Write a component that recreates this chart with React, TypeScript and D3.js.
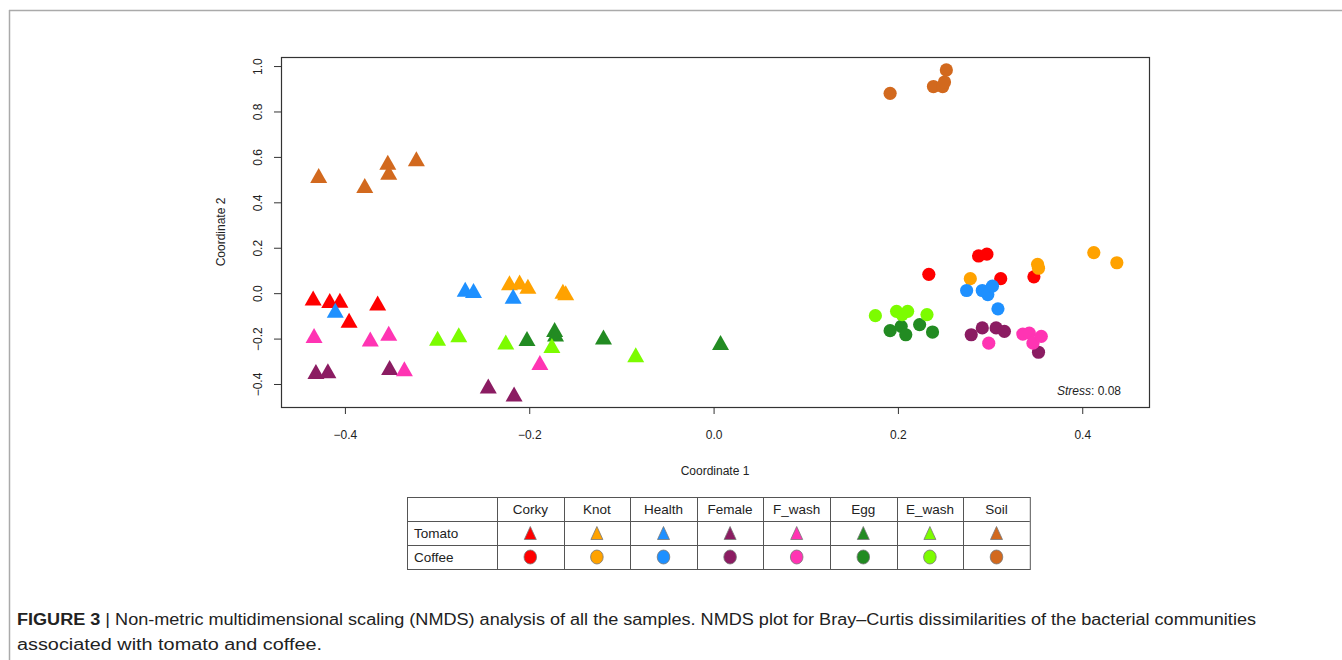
import React from "react";
import * as d3 from "d3";

// ---- data ----
const groups = ["Corky", "Knot", "Health", "Female", "F_wash", "Egg", "E_wash", "Soil"];
const groupColors = ["#FF0000", "#FFA200", "#1E90FF", "#8B1C62", "#FF34B3", "#228B22", "#7CFC00", "#D2691E"];

// Tomato samples (triangles)
const tomatoCorky: [number, number][] = [[-0.435, -0.019], [-0.417, -0.03], [-0.406, -0.029], [-0.396, -0.117], [-0.365, -0.041]];
const tomatoKnot: [number, number][] = [[-0.222, 0.048], [-0.211, 0.051], [-0.202, 0.033], [-0.164, 0.011], [-0.161, 0.004]];
const tomatoHealth: [number, number][] = [[-0.411, -0.073], [-0.27, 0.019], [-0.261, 0.014], [-0.218, -0.011]];
const tomatoFemale: [number, number][] = [[-0.432, -0.343], [-0.419, -0.339], [-0.352, -0.325], [-0.245, -0.407], [-0.217, -0.442]];
const tomatoFwash: [number, number][] = [[-0.434, -0.184], [-0.373, -0.2], [-0.353, -0.174], [-0.336, -0.331], [-0.189, -0.303]];
const tomatoEgg: [number, number][] = [[-0.203, -0.198], [-0.173, -0.158], [-0.172, -0.178], [-0.12, -0.191], [0.007, -0.215]];
const tomatoEwash: [number, number][] = [[-0.3, -0.196], [-0.277, -0.181], [-0.226, -0.213], [-0.176, -0.228], [-0.085, -0.269]];
const tomatoSoil: [number, number][] = [[-0.429, 0.52], [-0.379, 0.476], [-0.354, 0.579], [-0.353, 0.535], [-0.323, 0.594]];

// Coffee samples (circles)
const coffeeCorky: [number, number][] = [[0.233, 0.085], [0.287, 0.166], [0.296, 0.174], [0.311, 0.066], [0.347, 0.074]];
const coffeeKnot: [number, number][] = [[0.278, 0.066], [0.351, 0.129], [0.352, 0.112], [0.412, 0.181], [0.437, 0.136]];
const coffeeHealth: [number, number][] = [[0.274, 0.014], [0.291, 0.014], [0.297, -0.004], [0.302, 0.033], [0.308, -0.067]];
const coffeeFemale: [number, number][] = [[0.279, -0.181], [0.291, -0.151], [0.306, -0.151], [0.315, -0.166], [0.352, -0.258]];
const coffeeFwash: [number, number][] = [[0.298, -0.218], [0.335, -0.178], [0.342, -0.174], [0.346, -0.218], [0.355, -0.188]];
const coffeeEgg: [number, number][] = [[0.191, -0.163], [0.203, -0.144], [0.208, -0.181], [0.223, -0.136], [0.237, -0.169]];
const coffeeEwash: [number, number][] = [[0.175, -0.097], [0.198, -0.078], [0.204, -0.092], [0.21, -0.078], [0.231, -0.092]];
const coffeeSoil: [number, number][] = [[0.191, 0.882], [0.238, 0.912], [0.248, 0.912], [0.25, 0.932], [0.252, 0.985]];

const xTicks = [-0.4, -0.2, 0.0, 0.2, 0.4];
const yTicks = [-0.4, -0.2, 0.0, 0.2, 0.4, 0.6, 0.8, 1.0];
const stressValue = "0.08";
const hosts = ["Tomato", "Coffee"];

const tomatoSets = [tomatoCorky, tomatoKnot, tomatoHealth, tomatoFemale, tomatoFwash, tomatoEgg, tomatoEwash, tomatoSoil];
const coffeeSets = [coffeeCorky, coffeeKnot, coffeeHealth, coffeeFemale, coffeeFwash, coffeeEgg, coffeeEwash, coffeeSoil];

const FONT = "'Liberation Sans', Arial, Helvetica, sans-serif";

function expand(ext: [number, number]): [number, number] {
  const r = ext[1] - ext[0];
  return [ext[0] - 0.04 * r, ext[1] + 0.04 * r];
}

export default function App() {
  const W = 1342, H = 660;
  const plot = { left: 281, right: 1149, top: 57, bottom: 407 };
  const all = [...tomatoSets.flat(), ...coffeeSets.flat()];
  const x = d3.scaleLinear().domain(expand(d3.extent(all, (d) => d[0]) as [number, number])).range([plot.left, plot.right]);
  const y = d3.scaleLinear().domain(expand(d3.extent(all, (d) => d[1]) as [number, number])).range([plot.bottom, plot.top]);
  const fmt = d3.format(".1f");

  const triPath = (cx: number, cy: number, w: number, h: number) =>
    `M${cx},${cy - h / 2}L${cx + w / 2},${cy + h / 2}L${cx - w / 2},${cy + h / 2}Z`;

  // legend table layout
  const tb = { left: 407, top: 497, firstW: 90, colW: 66.6, rowH: 24 };
  const tableRight = tb.left + tb.firstW + groups.length * tb.colW;
  const tableBottom = tb.top + 3 * tb.rowH;

  return (
    <svg width={W} height={H} style={{ position: "absolute", left: 0, top: 0, background: "#fff" }} fontFamily={FONT}>
      {/* figure border */}
      <line x1={9} x2={W} y1={10.5} y2={10.5} stroke="#aaa" strokeWidth={1.5} />
      <line x1={9.5} x2={9.5} y1={10} y2={H} stroke="#aaa" strokeWidth={1.5} />

      {/* points: tomato triangles */}
      {tomatoSets.map((set, gi) =>
        set.map((d, i) => (
          <path key={`t${gi}-${i}`} d={triPath(x(d[0]), y(d[1]), 17, 15)} fill={groupColors[gi]} />
        ))
      )}
      {coffeeSets.map((set, gi) =>
        set.map((d, i) => <circle key={`c${gi}-${i}`} cx={x(d[0])} cy={y(d[1])} r={6.6} fill={groupColors[gi]} />)
      )}

      {/* box */}
      <rect x={plot.left + 0.5} y={plot.top + 0.5} width={plot.right - plot.left} height={plot.bottom - plot.top} fill="none" stroke="#333" strokeWidth={1.2} />

      {/* x axis */}
      {xTicks.map((t) => (
        <g key={`xt${t}`}>
          <line x1={x(t)} x2={x(t)} y1={plot.bottom} y2={plot.bottom + 7} stroke="#333" />
          <text x={x(t)} y={439} fontSize={12} textAnchor="middle" fill="#222">{fmt(t)}</text>
        </g>
      ))}
      <text x={(plot.left + plot.right) / 2} y={475} fontSize={12} textAnchor="middle" fill="#222">Coordinate 1</text>

      {/* y axis */}
      {yTicks.map((t) => (
        <g key={`yt${t}`}>
          <line x1={plot.left - 7} x2={plot.left} y1={y(t)} y2={y(t)} stroke="#333" />
          <text transform={`translate(262,${y(t)}) rotate(-90)`} fontSize={12} textAnchor="middle" fill="#222">{fmt(t)}</text>
        </g>
      ))}
      <text transform={`translate(225,${(plot.top + plot.bottom) / 2}) rotate(-90)`} fontSize={12} textAnchor="middle" fill="#222">Coordinate 2</text>

      {/* stress */}
      <text x={1121} y={395} fontSize={12} textAnchor="end" fill="#222">
        <tspan fontStyle="italic">Stress</tspan>: {stressValue}
      </text>

      {/* legend table */}
      <g stroke="#555" strokeWidth={1}>
        <rect x={tb.left + 0.5} y={tb.top + 0.5} width={tableRight - tb.left} height={tableBottom - tb.top} fill="none" />
        {[1, 2].map((r) => (
          <line key={`hr${r}`} x1={tb.left} x2={tableRight} y1={tb.top + r * tb.rowH + 0.5} y2={tb.top + r * tb.rowH + 0.5} />
        ))}
        {groups.map((g, i) => (
          <line key={`vl${g}`} x1={Math.round(tb.left + tb.firstW + i * tb.colW) + 0.5} x2={Math.round(tb.left + tb.firstW + i * tb.colW) + 0.5} y1={tb.top} y2={tableBottom} />
        ))}
      </g>
      {groups.map((g, i) => {
        const cx = tb.left + tb.firstW + (i + 0.5) * tb.colW;
        return (
          <g key={`lg${g}`}>
            <text x={cx} y={tb.top + 17} fontSize={13.5} textAnchor="middle" fill="#222">{g}</text>
            <path d={triPath(cx, tb.top + 1.5 * tb.rowH, 12, 13)} fill={groupColors[i]} stroke="#777" strokeWidth={0.8} />
            <ellipse cx={cx} cy={tb.top + 2.5 * tb.rowH} rx={6.3} ry={7} fill={groupColors[i]} stroke="#777" strokeWidth={0.8} />
          </g>
        );
      })}
      {hosts.map((h, r) => (
        <text key={h} x={tb.left + 7} y={tb.top + (r + 1) * tb.rowH + 17} fontSize={13.5} fill="#222">{h}</text>
      ))}

      {/* caption */}
      <text x={17} y={625} fontSize={16} fill="#222" textLength={1239} lengthAdjust="spacingAndGlyphs">
        <tspan fontWeight="bold">FIGURE 3</tspan>
        <tspan> | Non-metric multidimensional scaling (NMDS) analysis of all the samples. NMDS plot for Bray–Curtis dissimilarities of the bacterial communities</tspan>
      </text>
      <text x={17} y={650} fontSize={16} fill="#222" textLength={305} lengthAdjust="spacingAndGlyphs">associated with tomato and coffee.</text>
    </svg>
  );
}
